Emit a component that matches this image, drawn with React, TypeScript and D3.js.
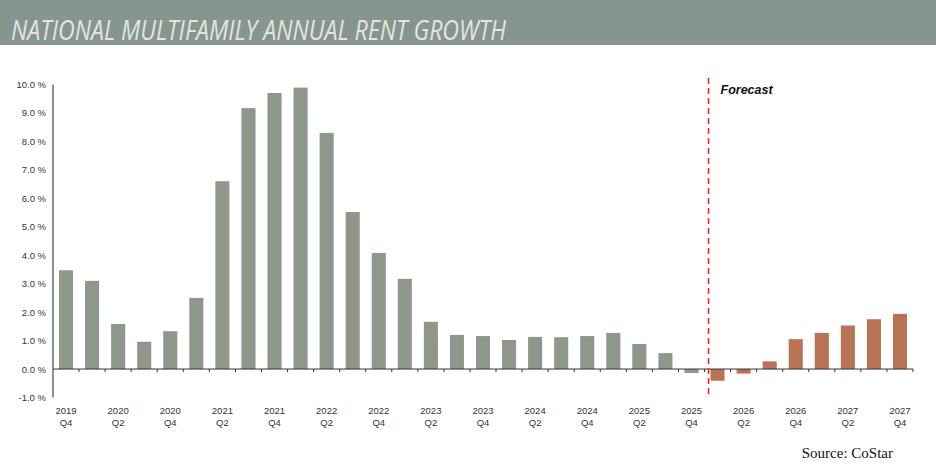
import { useEffect, useRef } from 'react';
import * as d3 from 'd3';

const quarters = [
  '2019 Q4',
  '2020 Q1', '2020 Q2', '2020 Q3', '2020 Q4',
  '2021 Q1', '2021 Q2', '2021 Q3', '2021 Q4',
  '2022 Q1', '2022 Q2', '2022 Q3', '2022 Q4',
  '2023 Q1', '2023 Q2', '2023 Q3', '2023 Q4',
  '2024 Q1', '2024 Q2', '2024 Q3', '2024 Q4',
  '2025 Q1', '2025 Q2', '2025 Q3', '2025 Q4',
  '2026 Q1', '2026 Q2', '2026 Q3', '2026 Q4',
  '2027 Q1', '2027 Q2', '2027 Q3', '2027 Q4',
];

const rentGrowth = [
  3.47,
  3.1, 1.58, 0.96, 1.33,
  2.5, 6.6, 9.17, 9.7,
  9.89, 8.3, 5.52, 4.08,
  3.17, 1.66, 1.2, 1.16,
  1.02, 1.13, 1.12, 1.16,
  1.27, 0.88, 0.56, -0.14,
  -0.41, -0.16, 0.27, 1.05,
  1.27, 1.53, 1.75, 1.94,
];

const firstForecast = '2026 Q1';
const yTicks = [-1, 0, 1, 2, 3, 4, 5, 6, 7, 8, 9, 10];

export default function App() {
  const svgRef = useRef<SVGSVGElement>(null);

  useEffect(() => {
    if (!svgRef.current) return;
    const svg = d3.select(svgRef.current);
    svg.selectAll('*').remove();

    const width = 936;

    // Title banner
    svg.append('rect').attr('x', 0).attr('y', 0).attr('width', width).attr('height', 45).attr('fill', '#87958f');
    svg.append('text')
      .attr('x', 11)
      .attr('y', 40)
      .attr('font-family', '"Open Sans", sans-serif')
      .attr('font-style', 'italic')
      .attr('font-weight', 400)
      .attr('font-size', 27)
      .attr('fill', '#e3e4e0')
      .attr('textLength', 495)
      .attr('lengthAdjust', 'spacingAndGlyphs')
      .text('NATIONAL MULTIFAMILY ANNUAL RENT GROWTH');

    const x = d3.scaleBand<string>().domain(quarters).range([53, 913]).paddingInner(0.46).paddingOuter(0.23);
    const y = d3.scaleLinear().domain([-1, 10]).range([397.5, 84.5]);
    const step = x.step();

    const forecastIdx = quarters.indexOf(firstForecast);

    // Bars
    svg.append('g')
      .selectAll('rect')
      .data(quarters)
      .join('rect')
      .attr('x', (d) => x(d)!)
      .attr('width', x.bandwidth())
      .attr('y', (_, i) => y(Math.max(0, rentGrowth[i])))
      .attr('height', (_, i) => Math.abs(y(rentGrowth[i]) - y(0)))
      .attr('fill', (_, i) => (i >= forecastIdx ? '#b87356' : '#8f978a'));

    // x axis line and ticks
    const axis = svg.append('g').attr('stroke', '#333');
    axis.append('line').attr('x1', 53).attr('x2', 913).attr('y1', y(0)).attr('y2', y(0)).attr('stroke-width', 1);
    quarters.forEach((_, i) => {
      const tx = 53 + step * (i + 1);
      axis.append('line').attr('x1', tx).attr('x2', tx).attr('y1', y(0)).attr('y2', y(0) + 3).attr('stroke-width', 1);
    });

    // y axis
    svg.append('line').attr('x1', 53).attr('x2', 53).attr('y1', y(10)).attr('y2', y(-1)).attr('stroke', '#222').attr('stroke-width', 1);
    svg.append('g')
      .selectAll('text')
      .data(yTicks)
      .join('text')
      .attr('x', 46)
      .attr('y', (d) => y(d) + 3.5)
      .attr('text-anchor', 'end')
      .attr('font-family', 'Arial, "Liberation Sans", sans-serif')
      .attr('font-size', 9.5)
      .attr('fill', '#333')
      .text((d) => `${d.toFixed(1)} %`);

    // x labels (every other quarter)
    const labelled = quarters.filter((_, i) => i % 2 === 0);
    const xl = svg.append('g')
      .attr('font-family', 'Arial, "Liberation Sans", sans-serif')
      .attr('font-size', 9.5)
      .attr('fill', '#333')
      .attr('text-anchor', 'middle');
    labelled.forEach((q) => {
      const [yr, qt] = q.split(' ');
      const cx = x(q)! + x.bandwidth() / 2;
      xl.append('text').attr('x', cx).attr('y', 414).text(yr);
      xl.append('text').attr('x', cx).attr('y', 426).text(qt);
    });

    // Forecast divider
    const fx = x(firstForecast)! - 2;
    svg.append('line')
      .attr('x1', fx).attr('x2', fx)
      .attr('y1', 78).attr('y2', 397)
      .attr('stroke', '#ff1a1a')
      .attr('stroke-width', 1.5)
      .attr('stroke-dasharray', '6,4');
    svg.append('text')
      .attr('x', fx + 12)
      .attr('y', 94)
      .attr('font-family', 'Arial, "Liberation Sans", sans-serif')
      .attr('font-size', 12.5)
      .attr('font-weight', 'bold')
      .attr('font-style', 'italic')
      .attr('fill', '#111')
      .text('Forecast');

    // Source
    svg.append('text')
      .attr('x', 893)
      .attr('y', 458)
      .attr('text-anchor', 'end')
      .attr('font-family', '"Liberation Serif", "DejaVu Serif", serif')
      .attr('font-size', 15)
      .attr('fill', '#111')
      .text('Source: CoStar');
  }, []);

  return (
    <svg
      ref={svgRef}
      width={936}
      height={464}
      style={{ position: 'absolute', left: 0, top: 0, display: 'block', background: '#fff' }}
    />
  );
}
